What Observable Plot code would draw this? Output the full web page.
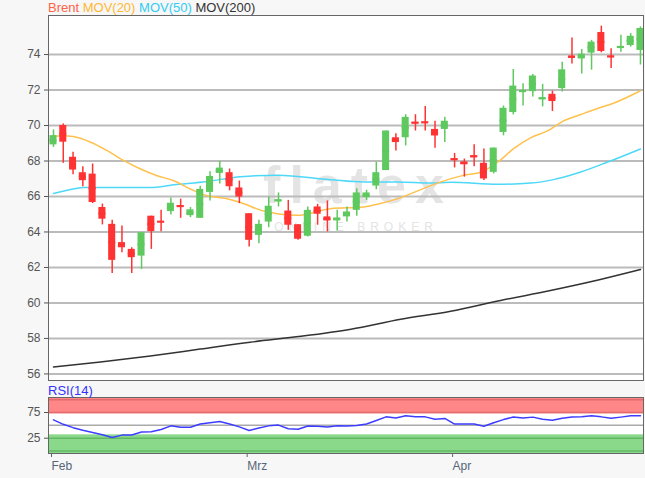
<!DOCTYPE html>
<html><head><meta charset="utf-8">
<script src="https://cdn.jsdelivr.net/npm/d3@7"></script>
<script src="https://cdn.jsdelivr.net/npm/@observablehq/plot@0.6"></script>
<style>
body{margin:0;background:#f7f7f7;font-family:"Liberation Sans",Arial,sans-serif;}
#wrap{position:relative;width:645px;height:478px;overflow:hidden;background:#f7f7f7}
.plot{position:absolute;left:0}
#legend{position:absolute;left:48px;top:0px;font-size:13px;line-height:16px;white-space:nowrap}
#rsilabel{position:absolute;left:48px;top:383px;font-size:13px;line-height:16px;color:#3333ff}
</style></head><body>
<div id="wrap">
  <div id="main" class="plot" style="top:0"></div>
  <div id="rsi" class="plot" style="top:385px"></div>
  <div id="legend"><span style="color:#ff6347">Brent</span> <span style="color:#ffb733">MOV(20)</span> <span style="color:#33ccf5">MOV(50)</span> <span style="color:#333">MOV(200)</span></div>
  <div id="rsilabel">RSI(14)</div>
</div>
<script>
// ---- candle data (trading days, Feb 1 .. late Apr) ----
const open  = [68.91,70.00,68.21,67.34,67.26,65.38,64.43,63.40,63.02,62.64,64.89,64.60,65.15,65.49,64.92,64.77,66.23,67.30,67.34,66.48,
               65.03,63.81,64.56,65.72,65.18,64.41,63.76,65.41,64.85,64.64,64.85,65.22,65.93,66.59,67.46,69.31,69.31,70.19,70.20,69.78,69.78,
               68.13,67.95,68.30,67.87,67.36,69.61,70.73,71.89,71.91,71.48,71.76,72.08,73.92,73.75,74.08,75.24,73.92,74.38,74.51,74.23];
const high  = [69.75,70.09,68.49,67.68,67.83,65.57,64.66,64.34,63.11,63.96,64.89,65.23,65.91,65.85,65.38,66.58,67.40,67.98,67.55,66.87,
               65.03,64.66,65.97,66.20,65.78,64.41,65.41,65.56,65.75,65.22,65.41,66.44,66.35,67.94,69.69,69.54,70.61,70.61,71.07,70.24,70.46,
               68.43,68.11,68.92,68.67,68.73,71.10,73.16,72.36,72.88,72.32,71.94,73.56,74.93,74.29,74.80,75.60,74.32,75.09,75.18,75.56];
const low   = [68.77,67.87,67.23,66.55,65.60,64.40,61.66,62.83,61.66,61.89,63.02,64.02,64.96,64.77,64.81,64.77,65.75,66.70,66.32,65.60,
               63.15,63.34,64.24,65.41,64.09,63.53,63.72,64.38,64.00,64.06,64.56,64.88,65.78,66.38,67.46,68.57,68.85,69.69,69.69,68.72,69.04,
               67.61,67.09,67.68,66.90,67.27,69.42,70.60,71.10,71.61,71.05,70.79,71.89,73.47,72.90,73.12,74.10,73.22,74.13,74.42,73.41];
const close = [69.43,69.06,67.49,66.89,65.66,64.72,62.40,63.11,62.55,63.96,64.02,64.55,65.62,65.42,65.25,66.40,67.13,67.60,66.55,65.97,
               63.53,64.43,65.45,65.82,64.38,63.59,65.22,65.00,64.62,64.79,65.13,66.20,66.20,67.34,69.69,69.04,70.46,70.11,70.15,69.41,70.24,
               68.06,67.80,68.21,66.99,68.73,70.97,72.22,71.98,72.79,71.57,71.35,73.14,73.81,74.02,74.70,74.17,73.85,74.46,75.03,75.47];

// ---- moving averages (sampled at trading-day positions) ----
const ma20Pos = [0,1,2,3.8,5.5,7.2,8.9,10.6,12.3,14,15.7,17.4,19.1,21.5,24.9,28.3,31.7,33.4,35.2,38.5,40.3,41.9,43.7,45.4,47,48.8,50.5,52.1,53.9,55.6,57.3,60];
const ma20    = [69.40,69.43,69.38,69.06,68.58,68.02,67.55,67.17,66.89,66.42,66.04,65.91,65.66,65.18,64.94,65.31,65.41,65.60,65.88,66.60,66.95,67.19,67.38,67.93,68.68,69.32,69.70,70.25,70.62,70.96,71.27,71.96];
const ma50Pos = [0,2,3.1,9.9,12.3,15.7,19.1,22.9,28.3,31.7,35.2,38.5,40.6,45.4,48.8,51.1,53.9,56.6,60];
const ma50    = [66.17,66.42,66.51,66.51,66.66,66.85,67.11,67.20,66.95,66.82,66.82,66.76,66.80,66.69,66.76,66.95,67.38,67.93,68.68];
const ma200Pos = [0,4.8,9.9,15,20.1,25.3,30.4,35.5,40.6,45.7,50.8,55.9,60];
const ma200    = [56.39,56.67,57.01,57.40,57.79,58.12,58.52,59.08,59.53,60.14,60.70,61.32,61.88];

// ---- RSI(14) ----
const rsi = [60.6,52,45.5,40.5,36,31.5,26.5,31,31.3,37,
             37.5,42,49,46.3,46.3,52.5,55,57.5,52.5,47,
             40,45,49,50.5,43.5,42.5,48.8,48.1,47,49.4,
             48.5,49.5,52.5,59.4,66.5,64.5,68.7,66.8,66.5,62,
             63.5,52.5,52.5,52.5,48.1,55,61.2,66.2,64.4,66,
             62,60,64,66.2,66.5,68.5,66.5,63.7,66,68.7,68.7];
const rsiUpperBand = 72.5, rsiLowerBand = 31.5;
const rsiLevelsUp = [100, 75], rsiLevelsDown = [25, 0], rsiMid = [50];
const rsiTicks = [25, 75];

// ---- axes ----
const priceTicks = [56,58,60,62,64,66,68,70,72,74];
const xTickPos = [0, 20, 41];
const xTickLabels = ["Feb", "Mrz", "Apr"];

const xDomain = [-0.51, 60.31];
const yDomain = [55.63, 76.2];
const rsiDomain = [-4.8, 104.2];

const candles = open.map((o, i) => ({i, open: o, high: high[i], low: low[i], close: close[i]}));
const col = d => d.close >= d.open ? "#5ec95e" : "#ff3333";
const pts = (xs, ys) => xs.map((x, k) => ({x, y: ys[k]}));

const font = {background: "transparent", fontFamily: "'Liberation Sans', Arial, sans-serif", fontSize: "12px", color: "#555"};

const main = Plot.plot({
  width: 645, height: 385, marginTop: 15, marginBottom: 5, marginLeft: 48, marginRight: 2,
  style: font,
  x: {domain: xDomain, axis: null},
  y: {domain: yDomain, axis: null},
  marks: [
    Plot.frame({fill: "white", stroke: null}),
    Plot.text(["flatex"], {text: d => d, frameAnchor: "middle", dx: 12, dy: -12, fontSize: 52, fontWeight: "bold", fill: "#e4e4e4"}),
    Plot.text(["ONLINE BROKER"], {text: d => d, frameAnchor: "middle", dx: 10, dy: 29, fontSize: 12, fill: "#e4e4e4"}),
    Plot.ruleY(priceTicks, {stroke: "#bbbbbb", strokeWidth: 2}),
    Plot.axisY(priceTicks, {tickSize: 4, tickPadding: 4, fontSize: 12, color: "#555"}),
    Plot.line(pts(ma200Pos, ma200), {x: "x", y: "y", stroke: "#333", strokeWidth: 1.5, curve: "monotone-x"}),
    Plot.line(pts(ma50Pos, ma50), {x: "x", y: "y", stroke: "#4dd8f8", strokeWidth: 1.5, curve: "monotone-x"}),
    Plot.line(pts(ma20Pos, ma20), {x: "x", y: "y", stroke: "#ffc14d", strokeWidth: 1.5, curve: "monotone-x"}),
    Plot.ruleX(candles, {x: "i", y1: "low", y2: "high", stroke: col, strokeWidth: 1.5}),
    Plot.rect(candles, {x1: d => d.i - 0.36, x2: d => d.i + 0.36, y1: "open", y2: "close", fill: col}),
    Plot.ruleY(candles, {x1: d => d.i - 0.36, x2: d => d.i + 0.36, y: d => (d.open + d.close) / 2, stroke: col, strokeWidth: 2}),
    Plot.frame({stroke: "#666"})
  ]
});
d3.select(main).selectAll("text").filter(function(){ return this.textContent === "ONLINE BROKER"; }).attr("letter-spacing", 5);
d3.select(main).selectAll("text").filter(function(){ return this.textContent === "flatex"; }).attr("letter-spacing", 9);
document.getElementById("main").appendChild(main);

const rsiPlot = Plot.plot({
  width: 645, height: 93, marginTop: 12, marginBottom: 25, marginLeft: 48, marginRight: 2,
  style: font,
  x: {domain: xDomain, axis: null},
  y: {domain: rsiDomain, axis: null},
  marks: [
    Plot.frame({fill: "white", stroke: null}),
    Plot.rect([rsiUpperBand], {y1: d => d, y2: rsiDomain[1], fill: "#ff8787"}),
    Plot.rect([rsiLowerBand], {y1: rsiDomain[0], y2: d => d, fill: "#8ad88a"}),
    Plot.ruleY(rsiLevelsUp, {stroke: "#e36a6a", strokeWidth: 1.5}),
    Plot.ruleY(rsiLevelsDown, {stroke: "#63b963", strokeWidth: 1.5}),
    Plot.ruleY(rsiMid, {stroke: "#aaaaaa", strokeWidth: 1.5}),
    Plot.line(rsi, {x: (d, i) => i, y: d => d, stroke: "#3d3dff", strokeWidth: 1.5}),
    Plot.axisY(rsiTicks, {tickSize: 4, tickPadding: 4, fontSize: 12, color: "#555"}),
    Plot.axisX(xTickPos, {tickSize: 4, tickPadding: 4, fontSize: 12, textAnchor: "start", dx: -2, color: "#556677",
      tickFormat: d => xTickLabels[xTickPos.indexOf(d)]}),
    Plot.frame({stroke: "#666"})
  ]
});
document.getElementById("rsi").appendChild(rsiPlot);
</script>
</body></html>
